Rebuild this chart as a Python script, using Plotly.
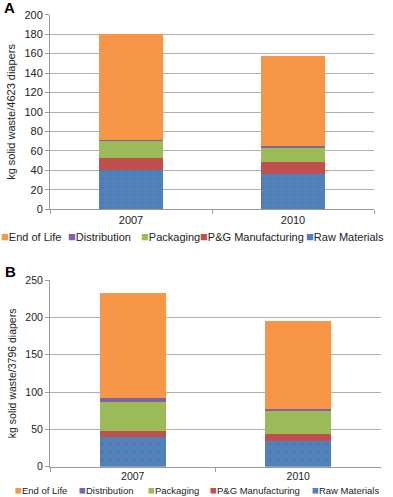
import plotly.graph_objects as go

# ---------------- data ----------------
categories = ["2007", "2010"]
series_names = ["Raw Materials", "P&G Manufacturing", "Packaging", "Distribution", "End of Life"]
series_colors = ["#4F81BD", "#C0504D", "#9BBB59", "#8064A2", "#F79646"]

# Panel A: kg solid waste / 4623 diapers
raw_a = [40.0, 36.0]
mfg_a = [13.0, 13.0]
pack_a = [18.0, 15.3]
dist_a = [0.3, 0.7]
eol_a = [108.7, 93.0]

# Panel B: kg solid waste / 3796 diapers
raw_b = [40.0, 34.5]
mfg_b = [8.0, 9.7]
pack_b = [38.3, 30.8]
dist_b = [5.8, 2.7]
eol_b = [140.0, 117.5]

ytitle_a = "kg solid waste/4623 diapers"
ytitle_b = "kg solid waste/3796 diapers"
yticks_a = [0, 20, 40, 60, 80, 100, 120, 140, 160, 180, 200]
yticks_b = [0, 50, 100, 150, 200, 250]

values_a = [raw_a, mfg_a, pack_a, dist_a, eol_a]
values_b = [raw_b, mfg_b, pack_b, dist_b, eol_b]

# ---------------- figure ----------------
W, H = 393, 497
FONT = "Liberation Sans, Arial, sans-serif"
fig = go.Figure()


def px_x(p):
    return p / W


def px_y(p):
    return (H - p) / H


for panel, vals, xa, ya, bw in [("A", values_a, "x", "y", 0.395), ("B", values_b, "x2", "y2", 0.40)]:
    for name, color, v in zip(series_names, series_colors, vals):
        marker = dict(color=color, line=dict(width=0))
        if name == "Raw Materials":
            marker["pattern"] = dict(shape=".", fgcolor="#7d5a4a", bgcolor=color,
                                     size=8, solidity=0.06, fgopacity=0.7)
        fig.add_trace(go.Bar(
            x=categories, y=v, name=name, marker=marker, width=bw,
            xaxis=xa, yaxis=ya, showlegend=False,
        ))


def xaxis_cfg(dom, anchor, fs):
    return dict(domain=dom, anchor=anchor, type="category", automargin=False,
                tickson="boundaries", ticks="outside", ticklen=4, tickcolor="#9a9a9a",
                showgrid=False, showline=True, linecolor="#9a9a9a", linewidth=1,
                tickfont=dict(family=FONT, size=fs, color="#222"))


def yaxis_cfg(dom, anchor, rng, tv, title, fs):
    return dict(domain=dom, anchor=anchor, range=rng, tickvals=tv, automargin=False,
                ticks="outside", ticklen=4, tickcolor="#9a9a9a",
                showgrid=True, gridcolor="#b0b0b0", gridwidth=1, zeroline=False,
                showline=True, linecolor="#9a9a9a", linewidth=1,
                tickfont=dict(family=FONT, size=fs, color="#222"),
                title=dict(text=title, font=dict(family=FONT, size=fs, color="#222"), standoff=6))


fig.update_layout(
    width=W, height=H,
    margin=dict(l=0, r=0, t=0, b=0, autoexpand=False),
    paper_bgcolor="white", plot_bgcolor="white",
    barmode="stack",
    font=dict(family=FONT, color="#222"),
    xaxis=xaxis_cfg([px_x(50), px_x(374)], "y", 11),
    yaxis=yaxis_cfg([px_y(209.3), px_y(14.7)], "x", [0, 200], yticks_a, ytitle_a, 11),
    xaxis2=xaxis_cfg([px_x(50), px_x(381)], "y2", 10.5),
    yaxis2=yaxis_cfg([px_y(466.7), px_y(280)], "x2", [0, 250], yticks_b, ytitle_b, 10.5),
)

# panel labels
fig.add_annotation(text="<b>A</b>", x=px_x(2), y=px_y(8), xref="paper", yref="paper",
                   xanchor="left", yanchor="middle", showarrow=False,
                   font=dict(family=FONT, size=15, color="#000"))
fig.add_annotation(text="<b>B</b>", x=px_x(3), y=px_y(271), xref="paper", yref="paper",
                   xanchor="left", yanchor="middle", showarrow=False,
                   font=dict(family=FONT, size=15, color="#000"))

# legend rows (legend order: reversed stacking order)
legend_order = [4, 3, 2, 1, 0]
legend_x_a = [0, 67, 140, 199, 305]
legend_x_b = [14, 78, 147, 209, 311]
for xs, yc, fs, ms in [(legend_x_a, 236, 11, 13), (legend_x_b, 490, 9.5, 11.5)]:
    for idx, xp in zip(legend_order, xs):
        fig.add_annotation(
            text=(f"<span style='color:{series_colors[idx]};font-size:{ms}px'>■</span>"
                  f"{series_names[idx]}"),
            x=px_x(xp), y=px_y(yc), xref="paper", yref="paper",
            xanchor="left", yanchor="middle", showarrow=False, borderpad=0,
            font=dict(family=FONT, size=fs, color="#222"),
        )

fig.write_html(
    "out.html",
    config={"displayModeBar": False},
    post_script="document.body.style.margin='0';document.body.style.overflow='hidden';",
)
